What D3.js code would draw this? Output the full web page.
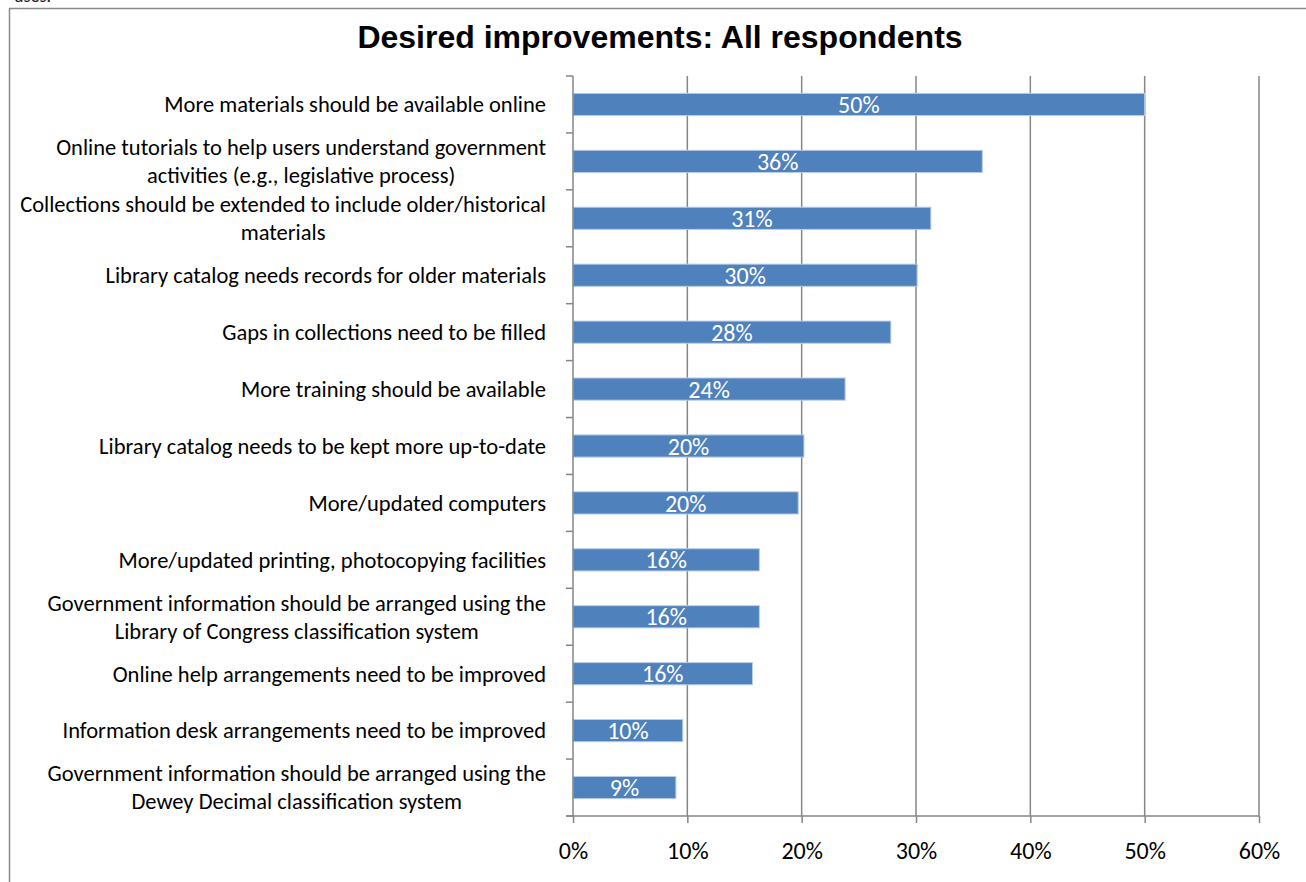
<!DOCTYPE html>
<html>
<head>
<meta charset="utf-8">
<script src="https://cdn.jsdelivr.net/npm/d3@7/dist/d3.min.js"></script>
<style>
  html, body { margin: 0; padding: 0; background: #fff; }
  svg { display: block; }
</style>
</head>
<body>
<svg id="chart" width="1306" height="882"></svg>
<script>
// Survey results: share of respondents asking for each improvement
const categories = [
  "More materials should be available online",
  "Online tutorials to help users understand government|activities (e.g., legislative process)",
  "Collections should be extended to include older/historical|materials",
  "Library catalog needs records for older materials",
  "Gaps in collections need to be filled",
  "More training should be available",
  "Library catalog needs to be kept more up-to-date",
  "More/updated computers",
  "More/updated printing, photocopying facilities",
  "Government information should be arranged using the|Library of Congress classification system",
  "Online help arrangements need to be improved",
  "Information desk arrangements need to be improved",
  "Government information should be arranged using the|Dewey Decimal classification system"
];
const shares = [0.500, 0.358, 0.313, 0.301, 0.278, 0.238, 0.202, 0.197, 0.163, 0.163, 0.157, 0.096, 0.090];
const xTicks = [0, 0.1, 0.2, 0.3, 0.4, 0.5, 0.6];
const titleText = "Desired improvements: All respondents";

const svg = d3.select("#chart");
const bodyFont = "Carlito, Calibri, Lato, 'Liberation Sans', sans-serif";

// Clipped line of surrounding text at the very top
svg.append("text")
  .attr("x", 14).attr("y", 2)
  .attr("font-family", bodyFont).attr("font-size", 18)
  .attr("fill", "#222")
  .text("uses.");

// Chart frame (right and bottom edges fall outside the view)
svg.append("rect")
  .attr("x", 9.5).attr("y", 8.5)
  .attr("width", 1400).attr("height", 1000)
  .attr("fill", "#fff")
  .attr("stroke", "#8a8a8a").attr("stroke-width", 1.5);

svg.append("text")
  .attr("x", 660).attr("y", 48)
  .attr("text-anchor", "middle")
  .attr("font-family", "'Liberation Sans', Arial, sans-serif")
  .attr("font-weight", "bold").attr("font-size", 32)
  .attr("fill", "#000")
  .text(titleText);

const x = d3.scaleLinear().domain([0, 0.6]).range([573, 1259]);
const y = d3.scaleBand().domain(categories).range([76, 816])
  .paddingInner(0.61).paddingOuter(0.305);
const step = y.step();
const plotTop = 76, plotBottom = 816;

// Vertical gridlines
svg.append("g").selectAll("line")
  .data(xTicks.slice(1))
  .join("line")
  .attr("x1", d => x(d)).attr("x2", d => x(d))
  .attr("y1", plotTop).attr("y2", plotBottom)
  .attr("stroke", "#868686").attr("stroke-width", 1.5);

// Bars
svg.append("g").selectAll("rect")
  .data(shares)
  .join("rect")
  .attr("x", x(0))
  .attr("y", (d, i) => y(categories[i]))
  .attr("width", d => x(d) - x(0))
  .attr("height", y.bandwidth())
  .attr("fill", "#4f81bd")
  .attr("stroke", "#b9cde5").attr("stroke-width", 1);

// Value labels inside bars
const pct = d3.format(".0%");
svg.append("g").selectAll("text")
  .data(shares)
  .join("text")
  .attr("x", d => (x(0) + x(d)) / 2)
  .attr("y", (d, i) => y(categories[i]) + y.bandwidth() / 2)
  .attr("dy", "0.36em")
  .attr("text-anchor", "middle")
  .attr("font-family", bodyFont).attr("font-size", 24)
  .attr("fill", "#fff")
  .text(d => pct(d));

// Y axis line and ticks at band boundaries
const axisColor = "#868686";
svg.append("line")
  .attr("x1", x(0)).attr("x2", x(0)).attr("y1", plotTop).attr("y2", plotBottom)
  .attr("stroke", axisColor).attr("stroke-width", 1.5);
svg.append("g").selectAll("line")
  .data(d3.range(categories.length + 1))
  .join("line")
  .attr("x1", x(0) - 7).attr("x2", x(0))
  .attr("y1", i => plotTop + i * step).attr("y2", i => plotTop + i * step)
  .attr("stroke", axisColor).attr("stroke-width", 1.5);

// X axis
const xAxis = d3.axisBottom(x)
  .tickValues(xTicks)
  .tickFormat(d3.format(".0%"))
  .tickSize(7)
  .tickSizeOuter(0)
  .tickPadding(19);
const gx = svg.append("g").attr("transform", `translate(0,${plotBottom})`).call(xAxis);
gx.select(".domain").attr("stroke", axisColor).attr("stroke-width", 1.5)
  .attr("d", `M${x(0) - 7},0H${x(0.6)}`);
gx.selectAll(".tick line").attr("stroke", axisColor).attr("stroke-width", 1.5);
gx.selectAll(".tick text")
  .attr("font-family", bodyFont).attr("font-size", 24)
  .attr("fill", "#000");

// Category labels, wrapped lines centred on each other, block right-aligned
const labelRight = 546;
const lineH = 28;
const labels = svg.append("g")
  .attr("font-family", bodyFont).attr("font-size", 22.5)
  .attr("fill", "#000");
categories.forEach(cat => {
  const lines = cat.split("|");
  const cy = y(cat) + y.bandwidth() / 2;
  const g = labels.append("g");
  const texts = lines.map((ln, j) => g.append("text")
    .attr("y", cy + (j - (lines.length - 1) / 2) * lineH)
    .attr("dy", "0.35em")
    .attr("text-anchor", "middle")
    .text(ln));
  const widths = texts.map(t => t.node().getComputedTextLength());
  const w = d3.max(widths);
  texts.forEach(t => t.attr("x", labelRight - w / 2));
});
</script>
</body>
</html>
